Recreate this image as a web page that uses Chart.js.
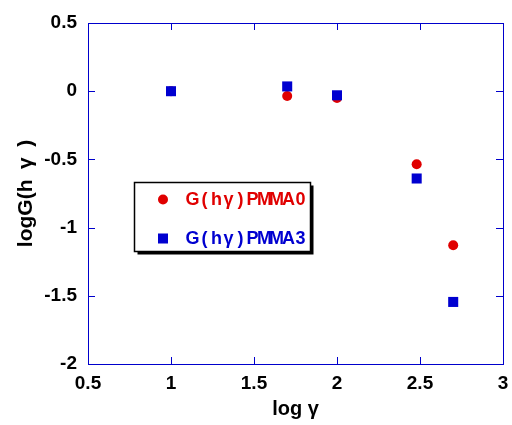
<!DOCTYPE html>
<html>
<head>
<meta charset="utf-8">
<script src="https://cdn.jsdelivr.net/npm/chart.js@4.4.0/dist/chart.umd.min.js"></script>
<style>
  html, body { margin: 0; padding: 0; background: #fff; }
  #wrap { width: 512px; height: 425px; }
</style>
</head>
<body>
<div id="wrap"><canvas id="gChart" width="512" height="425"></canvas></div>
<script>
// Daten
const xTicks = [0.5, 1, 1.5, 2, 2.5, 3];
const yTicks = [-2, -1.5, -1, -0.5, 0, 0.5];
const logGamma = [1, 1.7, 2, 2.48, 2.7];
const pmma0 = [0, -0.035, -0.05, -0.535, -1.13];
const pmma3 = [0, 0.035, -0.03, -0.64, -1.545];
const seriesNames = ['G(hγ)PMMA0', 'G(hγ)PMMA3'];

const RED = '#e00000';
const BLUE = '#0000d0';
const AXIS = '#0000cc';

function toPoints(xs, ys) {
    return xs.map((x, i) => ({ x: x, y: ys[i] }));
}

// Rahmen und Ticks nach innen zeichnen
const framePlugin = {
    id: 'frame',
    beforeDatasetsDraw(chart) {
        const { ctx, chartArea: a, scales } = chart;
        ctx.save();
        ctx.strokeStyle = AXIS;
        ctx.lineWidth = 1;
        ctx.strokeRect(Math.round(a.left) + 0.5, Math.round(a.top) + 0.5,
            Math.round(a.right - a.left), Math.round(a.bottom - a.top));
        const len = 7;
        ctx.beginPath();
        xTicks.forEach(v => {
            const px = Math.round(scales.x.getPixelForValue(v)) + 0.5;
            ctx.moveTo(px, a.bottom); ctx.lineTo(px, a.bottom - len);
            ctx.moveTo(px, a.top); ctx.lineTo(px, a.top + len);
        });
        yTicks.forEach(v => {
            const py = Math.round(scales.y.getPixelForValue(v)) + 0.5;
            ctx.moveTo(a.left, py); ctx.lineTo(a.left + len, py);
            ctx.moveTo(a.right, py); ctx.lineTo(a.right - len, py);
        });
        ctx.stroke();
        ctx.restore();
    }
};

// Legende mit Schatten
const legendBox = {
    id: 'legendBox',
    afterDraw(chart) {
        const ctx = chart.ctx;
        const bx = 134.5, by = 182.5, bw = 176, bh = 69;
        ctx.save();
        ctx.fillStyle = '#000';
        ctx.fillRect(bx + 3, by + 3, bw, bh);
        ctx.fillStyle = '#fff';
        ctx.fillRect(bx, by, bw, bh);
        ctx.strokeStyle = '#000';
        ctx.lineWidth = 1.5;
        ctx.strokeRect(bx, by, bw, bh);

        const rows = [
            { y: 199.5, color: RED, shape: 'circle', text: seriesNames[0] },
            { y: 238.5, color: BLUE, shape: 'rect', text: seriesNames[1] }
        ];
        rows.forEach(r => {
            ctx.fillStyle = r.color;
            if (r.shape === 'circle') {
                ctx.beginPath();
                ctx.arc(163, r.y, 5, 0, Math.PI * 2);
                ctx.fill();
            } else {
                ctx.fillRect(158, r.y - 5, 10, 10);
            }
            ctx.font = 'bold 18px "Liberation Sans Narrow", "Liberation Sans", sans-serif';
            ctx.textBaseline = 'middle';
            ctx.textAlign = 'center';
            Array.from(r.text).forEach((c, i) => {
                ctx.fillText(c, 192.5 + i * 12, r.y + 1);
            });
        });
        ctx.restore();
    }
};

const ctx = document.getElementById('gChart').getContext('2d');

const tickFont = { family: '"Liberation Sans", Arial, sans-serif', size: 19, weight: 'bold' };
const titleFont = { family: '"Liberation Sans", Arial, sans-serif', size: 20, weight: 'bold' };

new Chart(ctx, {
    type: 'scatter',
    data: {
        datasets: [
            {
                label: seriesNames[0],
                data: toPoints(logGamma, pmma0),
                pointStyle: 'circle',
                pointRadius: 5,
                pointHoverRadius: 5,
                backgroundColor: RED,
                borderColor: RED,
                borderWidth: 0,
                order: 2
            },
            {
                label: seriesNames[1],
                data: toPoints(logGamma, pmma3),
                pointStyle: 'rect',
                pointRadius: 7.1,
                pointHoverRadius: 7.1,
                backgroundColor: BLUE,
                borderColor: BLUE,
                borderWidth: 0,
                order: 1
            }
        ]
    },
    options: {
        responsive: false,
        animation: false,
        events: [],
        layout: { padding: { top: 23, right: 9, left: 0, bottom: 0 } },
        plugins: {
            legend: { display: false },
            tooltip: { enabled: false }
        },
        scales: {
            x: {
                type: 'linear',
                min: 0.5,
                max: 3,
                afterBuildTicks: s => { s.ticks = xTicks.map(v => ({ value: v })); },
                afterFit: s => { s.height = 61; s.paddingLeft = 0; s.paddingRight = 0; },
                grid: { display: false, drawTicks: false },
                border: { display: false },
                ticks: {
                    color: '#000',
                    font: tickFont,
                    padding: 8,
                    maxRotation: 0,
                    autoSkip: false,
                    callback: v => String(v)
                },
                title: {
                    display: true,
                    text: 'log γ',
                    color: '#000',
                    font: titleFont,
                    padding: { top: 0, bottom: 4 }
                }
            },
            y: {
                type: 'linear',
                min: -2,
                max: 0.5,
                afterBuildTicks: s => { s.ticks = yTicks.map(v => ({ value: v })); },
                afterFit: s => { s.width = 88; s.paddingTop = 0; s.paddingBottom = 0; },
                grid: { display: false, drawTicks: false },
                border: { display: false },
                ticks: {
                    color: '#000',
                    font: tickFont,
                    padding: 11,
                    autoSkip: false,
                    callback: v => String(v)
                },
                title: {
                    display: true,
                    text: 'logG(h\u2002γ\u2002)',
                    color: '#000',
                    font: { family: '"Liberation Sans", Arial, sans-serif', size: 21, weight: 'bold' },
                    padding: { top: 14, bottom: 0 }
                }
            }
        }
    },
    plugins: [framePlugin, legendBox]
});
</script>
</body>
</html>
